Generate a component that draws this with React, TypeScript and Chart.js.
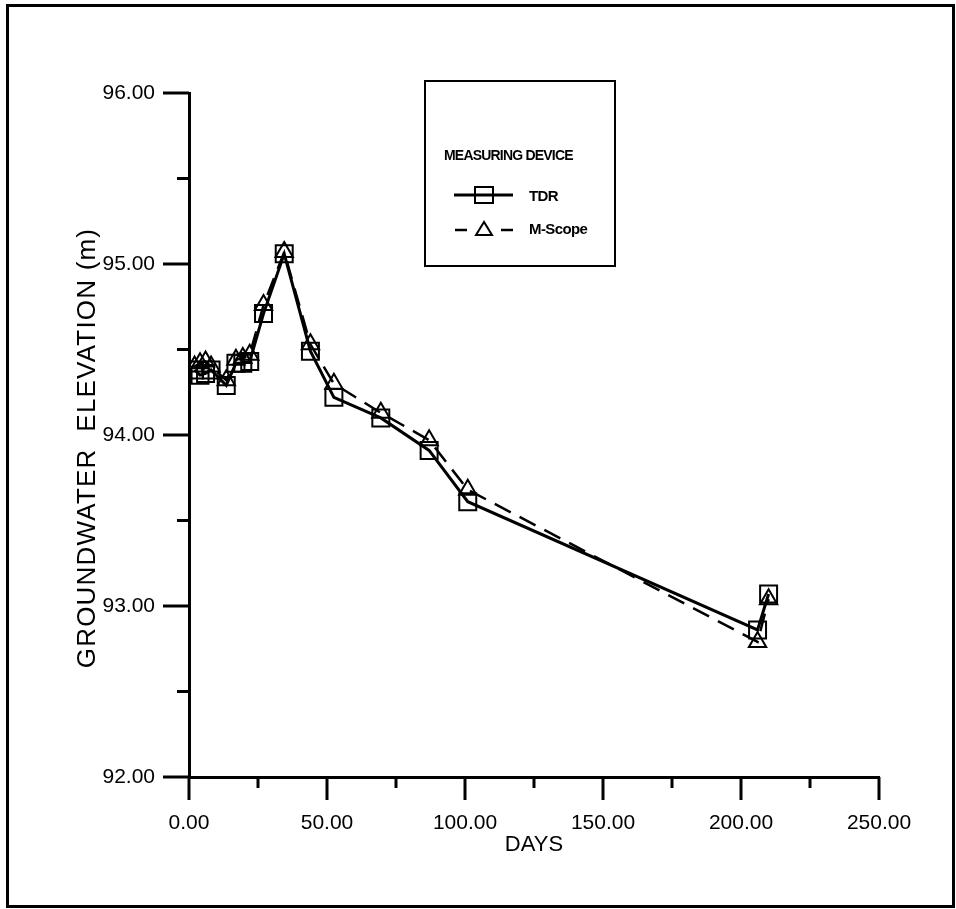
import React, { useEffect, useRef } from "react";
import { Chart, registerables } from "chart.js";

Chart.register(...registerables);

// ---- data ----
const TDR_DAYS = [2, 4, 6, 8, 13.5, 17, 19.5, 22, 27, 34.5, 44, 52.5, 69.5, 87, 101, 206, 210];
const TDR_ELEV = [94.38, 94.35, 94.36, 94.38, 94.29, 94.42, 94.42, 94.43, 94.71, 95.06, 94.49, 94.22, 94.1, 93.91, 93.61, 92.86, 93.07];
const MSCOPE_DAYS = [2, 4, 6, 8, 13.5, 17, 19.5, 22, 27, 34.5, 44, 52.5, 69.5, 87, 101, 206, 210];
const MSCOPE_ELEV = [94.4, 94.42, 94.43, 94.4, 94.32, 94.44, 94.45, 94.47, 94.76, 95.07, 94.53, 94.3, 94.13, 93.97, 93.68, 92.79, 93.04];

const X_MAJOR = [0, 50, 100, 150, 200, 250];
const X_MINOR = [25, 75, 125, 175, 225];
const Y_MAJOR = [92, 93, 94, 95, 96];
const Y_MINOR = [92.5, 93.5, 94.5, 95.5];

const X_TITLE = "DAYS";
const Y_TITLE = "GROUNDWATER  ELEVATION (m)";
const LEGEND_TITLE = "MEASURING DEVICE";
const SERIES_NAMES = ["TDR", "M-Scope"];

const FONT = "'Liberation Sans', Arial, Helvetica, sans-serif";

const tickPlugin = {
  id: "customTicks",
  afterDraw(chart: any) {
    const { ctx, chartArea: a } = chart;
    const xs = chart.scales.x;
    const ys = chart.scales.y;
    ctx.save();
    ctx.strokeStyle = "#000";
    ctx.lineWidth = 3;
    ctx.lineCap = "butt";
    const seg = (x1: number, y1: number, x2: number, y2: number) => {
      ctx.beginPath();
      ctx.moveTo(x1, y1);
      ctx.lineTo(x2, y2);
      ctx.stroke();
    };
    X_MAJOR.forEach((v) => {
      const px = xs.getPixelForValue(v);
      seg(px, a.bottom, px, a.bottom + 23);
    });
    X_MINOR.forEach((v) => {
      const px = xs.getPixelForValue(v);
      seg(px, a.bottom, px, a.bottom + 11);
    });
    Y_MAJOR.forEach((v) => {
      const py = ys.getPixelForValue(v);
      seg(a.left, py, a.left - 26, py);
    });
    Y_MINOR.forEach((v) => {
      const py = ys.getPixelForValue(v);
      seg(a.left, py, a.left - 12, py);
    });
    ctx.restore();
  },
};

function LegendRow({ dashed, label, top }: { dashed: boolean; label: string; top: number }) {
  return (
    <div style={{ position: "absolute", left: 0, top: top - 13, height: 26, display: "flex", alignItems: "center" }}>
      <svg width={64} height={26} style={{ marginLeft: 27, display: "block" }}>
        {dashed ? (
          <>
            <line x1={2} y1={15} x2={14} y2={15} stroke="#000" strokeWidth={2.5} />
            <line x1={48} y1={15} x2={60} y2={15} stroke="#000" strokeWidth={2.5} />
            <polygon points="31,7 23,20 39,20" fill="none" stroke="#000" strokeWidth={2} />
          </>
        ) : (
          <>
            <line x1={1} y1={13} x2={60} y2={13} stroke="#000" strokeWidth={3} />
            <rect x={22} y={5} width={18} height={16} fill="none" stroke="#000" strokeWidth={2} />
          </>
        )}
      </svg>
      <span
        style={{
          marginLeft: 12,
          fontFamily: FONT,
          fontSize: 15,
          fontWeight: "bold",
          letterSpacing: -0.6,
          color: "#000",
          whiteSpace: "nowrap",
        }}
      >
        {label}
      </span>
    </div>
  );
}

export default function App() {
  const ref = useRef<HTMLCanvasElement | null>(null);

  useEffect(() => {
    if (!ref.current) return;
    const chart = new Chart(ref.current, {
      type: "line",
      data: {
        datasets: [
          {
            label: SERIES_NAMES[0],
            data: TDR_DAYS.map((d, i) => ({ x: d, y: TDR_ELEV[i] })),
            borderColor: "#000",
            borderWidth: 3,
            pointStyle: "rect",
            pointRadius: 12,
            pointBorderWidth: 2,
            pointBorderColor: "#000",
            pointBackgroundColor: "rgba(0,0,0,0)",
            tension: 0,
            fill: false,
          },
          {
            label: SERIES_NAMES[1],
            data: MSCOPE_DAYS.map((d, i) => ({ x: d, y: MSCOPE_ELEV[i] })),
            borderColor: "#000",
            borderWidth: 2.5,
            borderDash: [18, 10],
            pointStyle: "triangle",
            pointRadius: 10,
            pointBorderWidth: 2,
            pointBorderColor: "#000",
            pointBackgroundColor: "rgba(0,0,0,0)",
            tension: 0,
            fill: false,
          },
        ],
      },
      options: {
        responsive: false,
        animation: false,
        events: [],
        layout: { padding: { top: 93, right: 77, bottom: 0, left: 0 } },
        plugins: { legend: { display: false }, tooltip: { enabled: false } },
        scales: {
          x: {
            type: "linear",
            min: 0,
            max: 250,
            afterFit: (s: any) => {
              s.height = 132;
            },
            afterBuildTicks: (s: any) => {
              s.ticks = X_MAJOR.map((v) => ({ value: v }));
            },
            ticks: {
              callback: (v: any) => Number(v).toFixed(2),
              color: "#000",
              padding: 34,
              maxRotation: 0,
              font: { family: FONT, size: 21 },
            },
            grid: { drawOnChartArea: false, drawTicks: false },
            border: { display: true, color: "#000", width: 3 },
            title: {
              display: true,
              text: X_TITLE,
              color: "#000",
              font: { family: FONT, size: 22 },
              padding: { top: 0, bottom: 51 },
            },
          },
          y: {
            type: "linear",
            min: 92,
            max: 96,
            afterFit: (s: any) => {
              s.width = 189;
            },
            afterBuildTicks: (s: any) => {
              s.ticks = Y_MAJOR.map((v) => ({ value: v }));
            },
            ticks: {
              callback: (v: any) => Number(v).toFixed(2),
              color: "#000",
              padding: 34,
              font: { family: FONT, size: 21 },
            },
            grid: { drawOnChartArea: false, drawTicks: false },
            border: { display: true, color: "#000", width: 3 },
            title: { display: false },
          },
        },
      },
      plugins: [tickPlugin],
    });
    return () => chart.destroy();
  }, []);

  const LEG_LEFT = 424;
  const LEG_TOP = 80;

  return (
    <div style={{ position: "fixed", left: 0, top: 0, width: 956, height: 909, background: "#fff" }}>
      <canvas ref={ref} width={956} height={909} style={{ position: "absolute", left: 0, top: 0, width: 956, height: 909 }} />
      <div
        style={{
          position: "absolute",
          left: 6,
          top: 4,
          width: 943,
          height: 898,
          border: "3px solid #000",
          pointerEvents: "none",
        }}
      />
      <div
        style={{
          position: "absolute",
          left: 86,
          top: 448,
          transform: "translate(-50%, -50%) rotate(-90deg)",
          fontFamily: FONT,
          fontSize: 26,
          letterSpacing: 1.2,
          color: "#000",
          whiteSpace: "pre",
          lineHeight: "30px",
        }}
      >
        {Y_TITLE}
      </div>
      <div
        style={{
          position: "absolute",
          left: LEG_LEFT,
          top: LEG_TOP,
          width: 188,
          height: 183,
          border: "2px solid #000",
          background: "#fff",
          boxSizing: "content-box",
        }}
      >
        <div
          style={{
            position: "absolute",
            left: 18,
            top: 155 - LEG_TOP - 2 - 9,
            lineHeight: "18px",
            fontFamily: FONT,
            fontSize: 14,
            fontWeight: "bold",
            letterSpacing: -0.8,
            color: "#000",
            whiteSpace: "nowrap",
          }}
        >
          {LEGEND_TITLE}
        </div>
        <LegendRow dashed={false} label={SERIES_NAMES[0]} top={195 - LEG_TOP - 2} />
        <LegendRow dashed={true} label={SERIES_NAMES[1]} top={228 - LEG_TOP - 2} />
      </div>
    </div>
  );
}
